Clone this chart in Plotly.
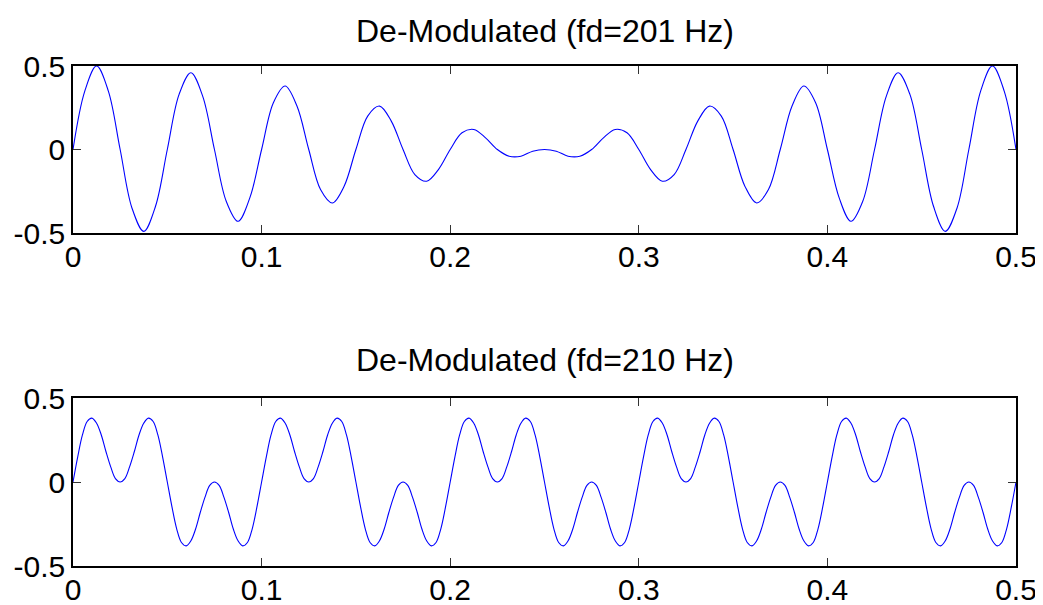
import numpy as np
import plotly.graph_objects as go

# ---- data ----
titles = ["De-Modulated (fd=201 Hz)", "De-Modulated (fd=210 Hz)"]

t_top = np.linspace(0, 0.5, 81)
y_top = [0, 0.35, 0.50, 0.35, 0, -0.35, -0.49, -0.34,
         0, 0.33, 0.46, 0.32, 0, -0.31, -0.43, -0.29,
         0, 0.28, 0.38, 0.26, 0, -0.24, -0.32, -0.22,
         0, 0.20, 0.26, 0.17, 0, -0.15, -0.19, -0.12,
         0, 0.10, 0.12, 0.07, 0, -0.04, -0.04, -0.01,
         0, -0.01, -0.04, -0.04, 0, 0.07, 0.12, 0.10,
         0, -0.12, -0.19, -0.15, 0, 0.17, 0.26, 0.20,
         0, -0.22, -0.32, -0.24, 0, 0.26, 0.38, 0.28,
         0, -0.29, -0.43, -0.31, 0, 0.32, 0.46, 0.33,
         0, -0.34, -0.49, -0.35, 0, 0.35, 0.50, 0.35,
         0]

t_bot = np.linspace(0, 0.5, 201)
y_bot = [
    0, 0.15, 0.28, 0.36, 0.38, 0.35, 0.28, 0.18, 0.09, 0.02,
    0, 0.02, 0.09, 0.18, 0.28, 0.35, 0.38, 0.36, 0.28, 0.15,
    0, -0.15, -0.28, -0.36, -0.38, -0.35, -0.28, -0.18, -0.09, -0.02,
    0, -0.02, -0.09, -0.18, -0.28, -0.35, -0.38, -0.36, -0.28, -0.15,
    0, 0.15, 0.28, 0.36, 0.38, 0.35, 0.28, 0.18, 0.09, 0.02,
    0, 0.02, 0.09, 0.18, 0.28, 0.35, 0.38, 0.36, 0.28, 0.15,
    0, -0.15, -0.28, -0.36, -0.38, -0.35, -0.28, -0.18, -0.09, -0.02,
    0, -0.02, -0.09, -0.18, -0.28, -0.35, -0.38, -0.36, -0.28, -0.15,
    0, 0.15, 0.28, 0.36, 0.38, 0.35, 0.28, 0.18, 0.09, 0.02,
    0, 0.02, 0.09, 0.18, 0.28, 0.35, 0.38, 0.36, 0.28, 0.15,
    0, -0.15, -0.28, -0.36, -0.38, -0.35, -0.28, -0.18, -0.09, -0.02,
    0, -0.02, -0.09, -0.18, -0.28, -0.35, -0.38, -0.36, -0.28, -0.15,
    0, 0.15, 0.28, 0.36, 0.38, 0.35, 0.28, 0.18, 0.09, 0.02,
    0, 0.02, 0.09, 0.18, 0.28, 0.35, 0.38, 0.36, 0.28, 0.15,
    0, -0.15, -0.28, -0.36, -0.38, -0.35, -0.28, -0.18, -0.09, -0.02,
    0, -0.02, -0.09, -0.18, -0.28, -0.35, -0.38, -0.36, -0.28, -0.15,
    0, 0.15, 0.28, 0.36, 0.38, 0.35, 0.28, 0.18, 0.09, 0.02,
    0, 0.02, 0.09, 0.18, 0.28, 0.35, 0.38, 0.36, 0.28, 0.15,
    0, -0.15, -0.28, -0.36, -0.38, -0.35, -0.28, -0.18, -0.09, -0.02,
    0, -0.02, -0.09, -0.18, -0.28, -0.35, -0.38, -0.36, -0.28, -0.15,
    0]

x_ticks = [0, 0.1, 0.2, 0.3, 0.4, 0.5]
x_ticktext = ["0", "0.1", "0.2", "0.3", "0.4", "0.5"]
y_ticks = [-0.5, 0, 0.5]
y_ticktext = ["-0.5", "0", "0.5"]

# ---- figure ----
# the page body adds an 8px offset, so the figure is 8px smaller and margins shifted
FONT = "Liberation Sans, Arial, Helvetica, sans-serif"
fig = go.Figure()
fig.add_trace(go.Scatter(x=t_top, y=y_top, mode="lines",
                         line=dict(color="#0000ff", width=1.1, shape="spline"),
                         xaxis="x", yaxis="y", showlegend=False))
fig.add_trace(go.Scatter(x=t_bot, y=y_bot, mode="lines",
                         line=dict(color="#0000ff", width=1.1, shape="spline"),
                         xaxis="x2", yaxis="y2", showlegend=False))

common_x = dict(range=[0, 0.5], tickvals=x_ticks, ticktext=x_ticktext,
                showline=True, linecolor="black", linewidth=1.5, mirror="ticks",
                ticks="inside", ticklen=8, tickcolor="#333333", tickwidth=1,
                showgrid=False, zeroline=False, automargin=False,
                ticklabelstandoff=-4, ticklabeloverflow="allow",
                tickfont=dict(family=FONT, size=30, color="black"))
common_y = dict(range=[-0.5, 0.5], tickvals=y_ticks, ticktext=y_ticktext,
                showline=True, linecolor="black", linewidth=1.5, mirror="ticks",
                ticks="inside", ticklen=8, tickcolor="#333333", tickwidth=1,
                showgrid=False, zeroline=False, automargin=False,
                ticklabelstandoff=0, ticklabeloverflow="allow",
                tickfont=dict(family=FONT, size=30, color="black"))

fig.update_layout(
    width=1035, height=597,
    margin=dict(l=65, r=27, t=58, b=39),
    paper_bgcolor="white", plot_bgcolor="white",
    xaxis=dict(domain=[0, 1], anchor="y", **common_x),
    yaxis=dict(domain=[0.666, 1.0], anchor="x", **common_y),
    xaxis2=dict(domain=[0, 1], anchor="y2", **common_x),
    yaxis2=dict(domain=[0.0, 0.336], anchor="x2", **common_y),
    annotations=[
        dict(text=titles[0], x=0.5, y=(566 - 31) / 500, xref="paper", yref="paper",
             xanchor="center", yanchor="middle", showarrow=False,
             font=dict(family=FONT, size=32, color="black")),
        dict(text=titles[1], x=0.5, y=(566 - 360) / 500, xref="paper", yref="paper",
             xanchor="center", yanchor="middle", showarrow=False,
             font=dict(family=FONT, size=32, color="black")),
    ],
)

fig.write_html("out.html")
